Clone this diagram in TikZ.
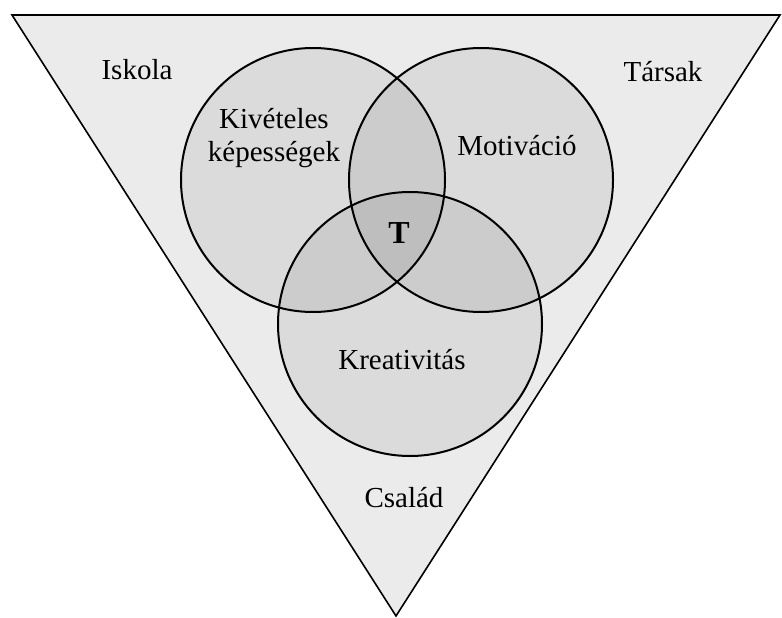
\documentclass[tikz,border=0pt]{standalone}
\usepackage{fontspec}
\setmainfont{Liberation Serif}
\usetikzlibrary{shapes}

\begin{document}
\begin{tikzpicture}[x=1pt,y=-1pt]
    \newcommand{\vennsize}[0]{264pt}

    \tikzstyle{venn}=[
      circle,
      draw=black,
      line width=2pt,
      fill=black,
      fill opacity=0.065,
      inner sep=0pt,
      minimum size=\vennsize,
    ]
    \tikzstyle{field}=[
      font=\fontsize{29}{33}\selectfont,
    ]
    \tikzstyle{factor}=[
      font=\fontsize{29}{33}\selectfont,
      align=center,
    ]

    \useasboundingbox (0,0) rectangle (782,618);

    \coordinate (topleft) at (12,15);
    \coordinate (topright) at (780,15);
    \coordinate (apex) at (396,616);
    \draw[line width=1.6pt,fill=black!8] (topleft) -- (topright) -- (apex) -- cycle;

    \node[venn] (creativity) at (410,324) {};
    \node[venn] (motivation) at (481,180) {};
    \node[venn] (ability) at (313,180) {};

    \node[field] (school) at (137,70) {Iskola};
    \node[field] (peers) at (663,72) {Társak};
    \node[field] (family) at (404,498) {Család};

    \node[factor] (abilitytext) at (274,138) {Kivételes\\képességek};
    \node[factor] (motivationtext) at (517,146) {Motiváció};
    \node[factor] (creativitytext) at (402,360) {Kreativitás};
    \node[factor,font=\fontsize{32}{36}\selectfont\bfseries] (talent) at (399,233) {T};
\end{tikzpicture}
\end{document}
